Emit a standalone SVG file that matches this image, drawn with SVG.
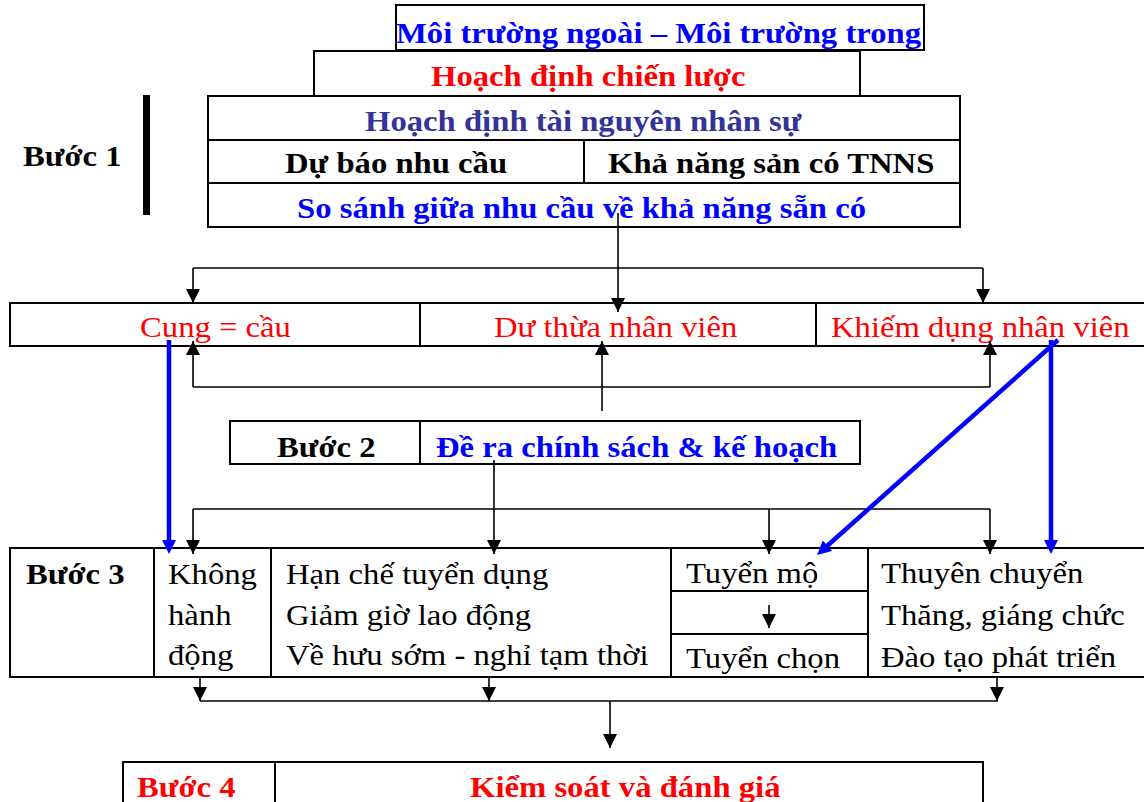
<svg xmlns="http://www.w3.org/2000/svg" width="1144" height="802" viewBox="0 0 1144 802">
  <defs>
    <style>
      .box{fill:#fff;stroke:#000;stroke-width:2}
      .sep{fill:none;stroke:#000;stroke-width:2}
      .t{font-family:"Liberation Serif","Times New Roman",serif;font-size:30px}
      .b{font-weight:bold}
      .blue{fill:#0000ff}
      .red{fill:#ff0000}
      .navy{fill:#333399}
      .blk{fill:#000}
      .conn{fill:none;stroke:#000;stroke-width:1.6}
      .bconn{fill:none;stroke:#0000ff;stroke-width:4.5}
    </style>
    <marker id="ah" markerUnits="userSpaceOnUse" markerWidth="14" markerHeight="14" viewBox="0 0 14 14" refX="14" refY="7" orient="auto">
      <path d="M0,0 L14,7 L0,14 z" fill="#000"/>
    </marker>
    <marker id="bah" markerUnits="userSpaceOnUse" markerWidth="14" markerHeight="14" viewBox="0 0 14 14" refX="4" refY="7" orient="auto">
      <path d="M0,0 L14,7 L0,14 z" fill="#0000ff"/>
    </marker>
  </defs>
  <rect width="1144" height="802" fill="#fff"/>

  <!-- Step 1: planning chain -->
  <g id="environment">
    <rect class="box" x="396" y="5" width="528" height="45"/>
    <text class="t b blue" transform="translate(396 43) scale(1.09 1)">Môi trường ngoài – Môi trường trong</text>
  </g>
  <g id="strategy">
    <rect class="box" x="314" y="51" width="546" height="45"/>
    <text class="t b red" transform="translate(431 86) scale(1.09 1)">Hoạch định chiến lược</text>
  </g>
  <g id="hr-planning">
    <rect class="box" x="208" y="96" width="752" height="131"/>
    <path class="sep" d="M208,140 H960 M208,183 H960 M584,140 V183"/>
    <text class="t b navy" transform="translate(365 131) scale(1.09 1)">Hoạch định tài nguyên nhân sự</text>
    <text class="t b blk" transform="translate(285 173) scale(1.09 1)">Dự báo nhu cầu</text>
    <text class="t b blk" transform="translate(608 173) scale(1.09 1)">Khả năng sản có TNNS</text>
    <text class="t b blue" transform="translate(297 218) scale(1.09 1)">So sánh giữa nhu cầu về khả năng sẵn có</text>
  </g>
  <g id="step1-label">
    <text class="t b blk" transform="translate(23 166) scale(1.09 1)">Bước 1</text>
    <rect x="143" y="95" width="7" height="120" fill="#000"/>
  </g>

  <!-- Supply / demand outcomes -->
  <g id="balance">
    <rect class="box" x="10" y="303" width="1150" height="43"/>
    <path class="sep" d="M420,303 V346 M816,303 V346"/>
    <text class="t red" transform="translate(140 337) scale(1.09 1)">Cung = cầu</text>
    <text class="t red" transform="translate(494 337) scale(1.09 1)">Dư thừa nhân viên</text>
    <text class="t red" transform="translate(831 337) scale(1.09 1)">Khiếm dụng nhân viên</text>
  </g>

  <!-- Step 2 -->
  <g id="step2">
    <rect class="box" x="230" y="421" width="630" height="43"/>
    <path class="sep" d="M420,421 V464"/>
    <text class="t b blk" transform="translate(277 457) scale(1.09 1)">Bước 2</text>
    <text class="t b blue" transform="translate(436 457) scale(1.09 1)">Đề ra chính sách &amp; kế hoạch</text>
  </g>

  <!-- Step 3 -->
  <g id="step3">
    <rect class="box" x="10" y="548" width="1150" height="129"/>
    <path class="sep" d="M154,548 V677 M271,548 V677 M671,548 V677 M868,548 V677 M671,591 H868 M671,634 H868"/>
    <text class="t b blk" transform="translate(26 584) scale(1.09 1)">Bước 3</text>
    <text class="t blk" transform="translate(168 584) scale(1.09 1)">Không</text>
    <text class="t blk" transform="translate(168 625) scale(1.09 1)">hành</text>
    <text class="t blk" transform="translate(168 665) scale(1.09 1)">động</text>
    <text class="t blk" transform="translate(286 584) scale(1.09 1)">Hạn chế tuyển dụng</text>
    <text class="t blk" transform="translate(286 625) scale(1.09 1)">Giảm giờ lao động</text>
    <text class="t blk" transform="translate(286 665) scale(1.09 1)">Về hưu sớm - nghỉ tạm thời</text>
    <text class="t blk" transform="translate(686 583) scale(1.09 1)">Tuyển mộ</text>
    <text class="t blk" transform="translate(686 668) scale(1.09 1)">Tuyển chọn</text>
    <text class="t blk" transform="translate(881 583) scale(1.09 1)">Thuyên chuyển</text>
    <text class="t blk" transform="translate(881 625) scale(1.09 1)">Thăng, giáng chức</text>
    <text class="t blk" transform="translate(881 667) scale(1.09 1)">Đào tạo phát triển</text>
  </g>

  <!-- Step 4 -->
  <g id="step4">
    <rect class="box" x="123" y="762" width="860" height="60"/>
    <path class="sep" d="M275,762 V802"/>
    <text class="t b red" transform="translate(137 797) scale(1.09 1)">Bước 4</text>
    <text class="t b red" transform="translate(470 797) scale(1.09 1)">Kiểm soát và đánh giá</text>
  </g>

  <!-- Connectors -->
  <g id="connectors">
    <path class="conn" d="M618,213 V312" marker-end="url(#ah)"/>
    <path class="conn" d="M193,268 H983"/>
    <path class="conn" d="M193,268 V303" marker-end="url(#ah)"/>
    <path class="conn" d="M983,268 V303" marker-end="url(#ah)"/>

    <path class="conn" d="M193,387 H990"/>
    <path class="conn" d="M193,387 V341" marker-end="url(#ah)"/>
    <path class="conn" d="M990,387 V341" marker-end="url(#ah)"/>
    <path class="conn" d="M602,411 V341" marker-end="url(#ah)"/>

    <path class="conn" d="M494,460 V554" marker-end="url(#ah)"/>
    <path class="conn" d="M193,509 H990"/>
    <path class="conn" d="M193,509 V554" marker-end="url(#ah)"/>
    <path class="conn" d="M769,509 V554" marker-end="url(#ah)"/>
    <path class="conn" d="M990,509 V554" marker-end="url(#ah)"/>

    <path class="conn" d="M769,605 V628" marker-end="url(#ah)"/>

    <path class="conn" d="M200,677 V701" marker-end="url(#ah)"/>
    <path class="conn" d="M489,677 V701" marker-end="url(#ah)"/>
    <path class="conn" d="M997,677 V701" marker-end="url(#ah)"/>
    <path class="conn" d="M200,701 H998"/>
    <path class="conn" d="M610,701 V748" marker-end="url(#ah)"/>

    <path class="bconn" d="M169,340 V544" marker-end="url(#bah)"/>
    <path class="bconn" d="M1051,340 V544" marker-end="url(#bah)"/>
    <path class="bconn" d="M1058,340 L824.5,548.3" marker-end="url(#bah)"/>
  </g>
</svg>
